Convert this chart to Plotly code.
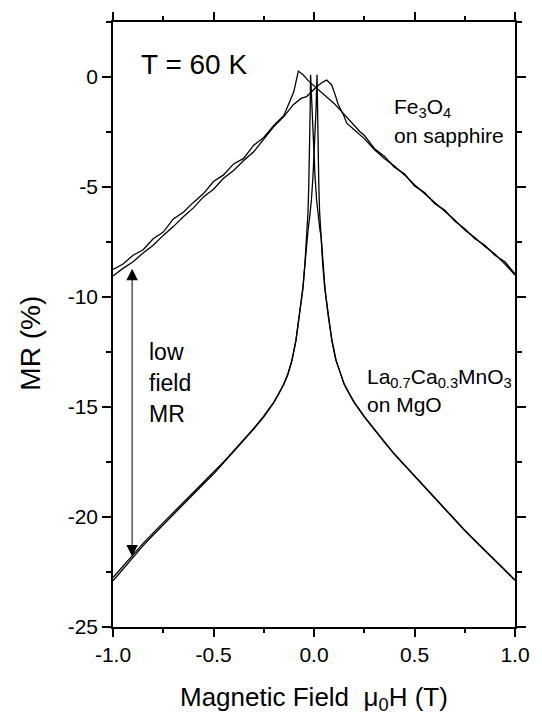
import plotly.graph_objects as go

# ---- data ----
# Fe3O4 on sapphire, branch with peak at negative field
fe_h_a = [-1.0, -0.95, -0.9, -0.85, -0.8, -0.75, -0.7, -0.65, -0.6, -0.55, -0.5, -0.45, -0.4, -0.35,
          -0.3, -0.25, -0.2, -0.15, -0.12, -0.1, -0.078, -0.053, -0.025, 0.0, 0.025, 0.05, 0.075,
          0.1, 0.125, 0.15, 0.18, 0.2, 0.23, 0.25, 0.3, 0.35, 0.4, 0.45, 0.5, 0.55, 0.6, 0.65,
          0.7, 0.75, 0.8, 0.85, 0.9, 0.95, 1.0]
fe_mr_a = [-8.75, -8.5, -8.1, -7.85, -7.35, -7.05, -6.45, -6.15, -5.7, -5.3, -4.75, -4.45, -3.95, -3.7,
           -3.1, -2.75, -2.2, -1.75, -1.1, -0.65, 0.27, 0.09, -0.2, -0.4, -0.6, -0.8, -1.0,
           -1.2, -1.45, -1.7, -2.0, -2.25, -2.5, -2.65, -3.25, -3.6, -4.1, -4.4, -4.95, -5.25, -5.75, -6.05,
           -6.55, -6.9, -7.35, -7.65, -8.1, -8.4, -8.95]
# Fe3O4 on sapphire, branch with peak at positive field
fe_h_b = [-1.0, -0.95, -0.9, -0.85, -0.8, -0.75, -0.7, -0.65, -0.6, -0.55, -0.5, -0.45, -0.4, -0.35,
          -0.3, -0.25, -0.2, -0.15, -0.103, -0.062, -0.037, 0.013, 0.04, 0.063, 0.088, 0.105, 0.121,
          0.146, 0.163, 0.2, 0.23, 0.25, 0.3, 0.35, 0.4, 0.45, 0.5, 0.55, 0.6, 0.65, 0.7, 0.75,
          0.8, 0.85, 0.9, 0.95, 1.0]
fe_mr_b = [-9.05, -8.7, -8.4, -8.0, -7.65, -7.2, -6.8, -6.35, -5.95, -5.45, -5.1, -4.6, -4.25, -3.8,
           -3.4, -2.85, -2.25, -1.8, -1.26, -0.96, -0.89, -0.44, -0.25, -0.14, -0.36, -0.8, -1.26,
           -1.71, -2.1, -2.4, -2.62, -2.8, -3.3, -3.7, -4.05, -4.45, -4.9, -5.3, -5.7, -6.1, -6.5, -6.95,
           -7.3, -7.7, -8.05, -8.5, -9.0]

# La0.7Ca0.3MnO3 on MgO, branch with peak at negative field
lc_h_a = [-1.0, -0.95, -0.9, -0.85, -0.8, -0.75, -0.7, -0.65, -0.6, -0.55, -0.5, -0.45, -0.4, -0.35,
          -0.3, -0.25, -0.2, -0.175, -0.15, -0.13, -0.11, -0.09, -0.07, -0.055, -0.045, -0.035, -0.03,
          -0.026, -0.022, -0.019, -0.017, -0.01, -0.003, 0.005, 0.013, 0.022, 0.03, 0.035, 0.045, 0.055,
          0.07, 0.09, 0.11, 0.13, 0.15, 0.175, 0.2, 0.25, 0.3, 0.35, 0.4, 0.45, 0.5, 0.55, 0.6, 0.65,
          0.7, 0.75, 0.8, 0.85, 0.9, 0.95, 1.0]
lc_mr_a = [-22.75, -22.22, -21.68, -21.2, -20.72, -20.26, -19.8, -19.35, -18.9, -18.45, -18.0, -17.5, -17.0, -16.5,
           -15.97, -15.42, -14.78, -14.38, -13.95, -13.5, -12.88, -11.97, -10.67, -9.57, -8.47, -7.17, -6.17,
           -4.97, -3.47, -1.47, 0.1, -1.5, -3.0, -4.5, -5.6, -6.4, -7.0, -7.2, -8.55, -9.65,
           -10.8, -12.0, -12.88, -13.47, -13.97, -14.4, -14.8, -15.45, -16.05, -16.6, -17.15, -17.65, -18.15, -18.65,
           -19.15, -19.65, -20.15, -20.62, -21.08, -21.53, -21.98, -22.43, -22.88]
# La0.7Ca0.3MnO3 on MgO, branch with peak at positive field
lc_h_b = [-1.0, -0.95, -0.9, -0.85, -0.8, -0.75, -0.7, -0.65, -0.6, -0.55, -0.5, -0.45, -0.4, -0.35,
          -0.3, -0.25, -0.2, -0.175, -0.15, -0.13, -0.11, -0.09, -0.07, -0.055, -0.045, -0.035, -0.03,
          -0.022, -0.013, -0.005, 0.003, 0.01, 0.015, 0.017, 0.02, 0.024, 0.028, 0.033, 0.043, 0.053,
          0.068, 0.088, 0.108, 0.13, 0.15, 0.175, 0.2, 0.25, 0.3, 0.35, 0.4, 0.45, 0.5, 0.55, 0.6, 0.65,
          0.7, 0.75, 0.8, 0.85, 0.9, 0.95, 1.0]
lc_mr_b = [-22.9, -22.35, -21.8, -21.3, -20.82, -20.35, -19.88, -19.42, -18.96, -18.5, -18.05, -17.55, -17.05, -16.54,
           -16.0, -15.45, -14.8, -14.4, -13.97, -13.52, -12.9, -11.99, -10.69, -9.6, -8.5, -7.2, -7.0,
           -6.4, -5.6, -4.5, -3.0, -1.5, 0.1, -1.45, -3.45, -4.95, -6.15, -7.15, -8.45, -9.55,
           -10.7, -11.95, -12.85, -13.45, -13.95, -14.38, -14.78, -15.43, -16.03, -16.58, -17.13, -17.63, -18.13, -18.63,
           -19.13, -19.63, -20.13, -20.6, -21.06, -21.51, -21.96, -22.41, -22.86]

x_tick_vals = [-1.0, -0.5, 0.0, 0.5, 1.0]
x_tick_text = ["-1.0", "-0.5", "0.0", "0.5", "1.0"]
x_minor_vals = [-0.75, -0.25, 0.25, 0.75]
y_tick_vals = [-25, -20, -15, -10, -5, 0]
y_tick_text = ["-25", "-20", "-15", "-10", "-5", "0"]
y_minor_vals = [-22.5, -17.5, -12.5, -7.5, -2.5, 2.5]

FONT = "Liberation Sans, Arial, sans-serif"
line_style = dict(color="black", width=1.3)

fig = go.Figure()
for hx, my in [(fe_h_a, fe_mr_a), (fe_h_b, fe_mr_b), (lc_h_a, lc_mr_a), (lc_h_b, lc_mr_b)]:
    fig.add_trace(go.Scatter(x=hx, y=my, mode="lines", line=line_style, showlegend=False,
                             hoverinfo="skip"))

axis_common = dict(showline=True, linecolor="black", linewidth=1.5, mirror="allticks",
                   ticks="outside", tickcolor="black", tickwidth=1.5, showgrid=False, zeroline=False,
                   tickfont=dict(family=FONT, size=21, color="black"))

fig.update_xaxes(range=[-1, 1], tickmode="array", tickvals=x_tick_vals, ticktext=x_tick_text,
                 ticklen=8, minor=dict(tickmode="array", tickvals=x_minor_vals, ticklen=4,
                                       ticks="outside", tickcolor="black", tickwidth=1.5),
                 **axis_common)
fig.update_yaxes(range=[-25, 2.5], tickmode="array", tickvals=y_tick_vals, ticktext=y_tick_text,
                 ticklen=9, minor=dict(tickmode="array", tickvals=y_minor_vals, ticklen=5,
                                       ticks="outside", tickcolor="black", tickwidth=1.5),
                 **axis_common)

ann = []
def txt(x, y, s, size, xanchor="left", xref="x", yref="y", angle=0):
    ann.append(dict(x=x, y=y, xref=xref, yref=yref, text=s, showarrow=False, xanchor=xanchor,
                    yanchor="middle", textangle=angle,
                    font=dict(family=FONT, size=size, color="black")))

def sub(s):
    return "<sub>" + s + "</sub>"

txt(-0.871, 0.58, "T = 60 K", 28)
txt(0.388, -1.4, "Fe" + sub("3") + "O" + sub("4"), 21)
txt(0.388, -2.65, "on sapphire", 21)
txt(0.254, -13.7, "La" + sub("0.7") + "Ca" + sub("0.3") + "MnO" + sub("3"), 21)
txt(0.254, -14.9, "on MgO", 21)
txt(-0.831, -12.5, "low", 23)
txt(-0.831, -13.9, "field", 23)
txt(-0.831, -15.3, "MR", 23)
txt(0.5, -0.118, "Magnetic Field\u00a0 μ" + sub("0") + "H (T)", 26, xanchor="center",
    xref="paper", yref="paper")
txt(-0.204, 0.47, "MR (%)", 28, xanchor="center", xref="paper", yref="paper", angle=-90)

# double headed arrow "low field MR"
ann.append(dict(x=-0.905, y=-21.8, ax=-0.905, ay=-8.65, xref="x", yref="y", axref="x", ayref="y",
                text="", showarrow=True, arrowhead=2, startarrowhead=2, arrowside="end+start",
                arrowsize=2.3, startarrowsize=2.3, arrowwidth=1, arrowcolor="black",
                standoff=0, startstandoff=0))

fig.update_layout(width=542, height=719, margin=dict(l=113, r=27, t=17, b=92),
                  paper_bgcolor="white", plot_bgcolor="white", annotations=ann,
                  font=dict(family=FONT, color="black"))

fig.write_html("out.html")
